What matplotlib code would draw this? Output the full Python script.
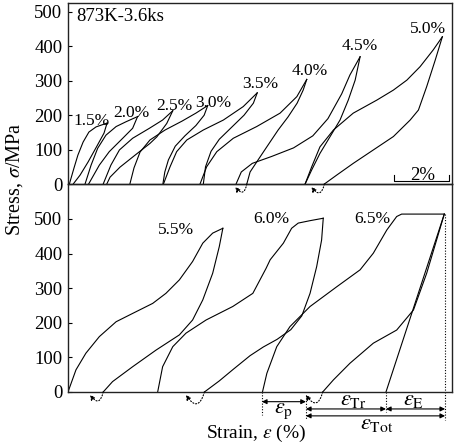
import matplotlib.pyplot as plt

plt.rcParams['font.family'] = ['Liberation Serif', 'DejaVu Serif']
plt.rcParams['mathtext.fontset'] = 'stix'

# ---- top panel: loops 1.5 % ... 5.0 % (strain %, stress MPa) ----
top_labels = ['1.5%', '2.0%', '2.5%', '3.0%', '3.5%', '4.0%', '4.5%', '5.0%']
top_label_x = [0.87, 2.32, 3.85, 5.28, 6.98, 8.78, 10.62, 13.07]
top_label_y = [171, 196, 215, 225, 278, 317, 390, 438]

top_load_strain = [
    [0.05, 0.22, 0.36, 0.55, 0.76, 1.02, 1.42],
    [0.62, 0.84, 1.08, 1.38, 1.75, 2.11, 2.53],
    [1.28, 1.56, 1.87, 2.35, 2.96, 3.44, 3.81],
    [2.25, 2.40, 2.62, 2.98, 3.53, 4.15, 4.65, 5.08],
    [3.47, 3.71, 3.95, 4.32, 4.92, 5.65, 6.37, 6.88],
    [4.80, 5.04, 5.41, 6.01, 6.86, 7.71, 8.32, 8.68],
    [6.11, 6.30, 6.70, 7.40, 8.20, 8.90, 9.45, 9.95, 10.25, 10.62],
    [8.62, 8.86, 9.16, 9.65, 10.37, 11.23, 11.83, 12.32, 12.80, 13.28, 13.61],
]
top_load_stress = [
    [0, 47, 84, 122, 151, 166, 177],
    [0, 55, 104, 142, 167, 181, 196],
    [0, 55, 99, 133, 162, 186, 213],
    [0, 47, 93, 128, 157, 183, 206, 228],
    [0, 50, 94, 128, 157, 186, 225, 265],
    [0, 50, 94, 133, 167, 206, 254, 304],
    [0, 35, 60, 80, 105, 140, 190, 262, 317, 370],
    [0, 50, 108, 157, 206, 244, 273, 302, 341, 390, 428],
]
top_unload_strain = [
    [1.42, 1.31, 1.05, 0.73, 0.44, 0.19],
    [2.53, 2.35, 1.99, 1.50, 1.14, 0.75],
    [3.81, 3.59, 3.23, 2.98, 2.44, 1.89, 1.53, 1.41],
    [5.08, 4.95, 4.65, 4.25, 3.90, 3.65, 3.52, 3.45],
    [6.88, 6.74, 6.40, 5.95, 5.50, 5.20, 5.00, 4.92],
    [8.68, 8.55, 8.33, 8.00, 7.64, 7.27, 6.91, 6.62, 6.50],
    [10.62, 10.44, 10.19, 9.89, 9.53, 9.16, 8.86, 8.62],
    [13.61, 13.35, 13.04, 12.74, 12.44, 11.83, 11.10, 10.37, 9.77, 9.32],
]
top_unload_stress = [
    [177, 148, 110, 64, 26, 0],
    [196, 162, 133, 94, 55, 0],
    [213, 176, 137, 118, 84, 49, 20, 0],
    [228, 200, 170, 140, 110, 70, 35, 0],
    [265, 235, 200, 165, 130, 95, 50, 0],
    [304, 273, 235, 195, 157, 113, 70, 35, 0],
    [370, 302, 244, 186, 138, 89, 41, 0],
    [428, 360, 283, 215, 186, 138, 99, 60, 26, 0],
]
# recovery on heating: (end of unloading, arrow tip)
top_recovery = [(6.50, 6.08), (9.32, 8.85)]

# ---- bottom panel: loops 5.5 %, 6.0 %, 6.5 % ----
bot_labels = ['5.5%', '6.0%', '6.5%']
bot_label_x = [3.94, 7.38, 11.07]
bot_label_y = [457, 488, 488]

bot_load_strain = [
    [0.0, 0.29, 0.65, 1.14, 1.75, 2.35, 3.08, 3.56, 4.05, 4.53, 4.90, 5.26, 5.63],
    [3.26, 3.44, 3.81, 4.29, 5.02, 5.99, 6.72, 7.20, 7.35, 7.83, 8.13, 8.37, 8.80, 9.28],
    [7.07, 7.23, 7.59, 8.07, 8.80, 9.77, 10.62, 11.10, 11.59, 11.95, 12.13, 13.68],
]
bot_load_stress = [
    [0, 64, 112, 160, 203, 227, 256, 285, 324, 377, 430, 459, 473],
    [0, 73, 131, 170, 208, 247, 285, 357, 382, 430, 473, 488, 495, 502],
    [0, 54, 131, 189, 247, 304, 353, 401, 468, 507, 514, 514],
]
bot_unload_strain = [
    [5.63, 5.50, 5.26, 4.90, 4.53, 4.05, 3.20, 2.35, 1.62, 1.28],
    [9.28, 9.22, 9.04, 8.80, 8.50, 8.10, 7.60, 7.10, 6.62, 6.00, 5.50, 4.96],
    [13.68, 13.40, 13.04, 12.56, 11.95, 11.10, 10.25, 9.65, 9.26],
]
bot_unload_stress = [
    [473, 420, 343, 266, 208, 165, 121, 73, 30, 0],
    [502, 439, 362, 285, 220, 180, 152, 130, 105, 65, 32, 0],
    [514, 439, 343, 237, 179, 141, 83, 35, 0],
]
elastic_strain = [13.68, 11.56]
elastic_stress = [514, 0]
bot_recovery = [(1.28, 0.80), (4.96, 4.29), (9.26, 8.65)]

# strain components of the 6.5 % cycle
eps_p = (7.05, 8.65)
eps_tr = (8.65, 11.56)
eps_e = (11.56, 13.71)

fig = plt.figure(figsize=(4.56, 4.46), dpi=100)
ax2 = fig.add_axes([0.1491, 0.1211, 0.8421, 0.4664])
ax1 = fig.add_axes([0.1491, 0.5874, 0.8421, 0.4058])
ax1.patch.set_visible(False)

lc = 'k'
lw = 0.8

def recovery_arrow(ax, start, tip):
    ax.annotate('', xy=(tip, -8), xytext=(start, 0), annotation_clip=False,
                arrowprops=dict(arrowstyle='-|>', ls=':', lw=0.8, color=lc,
                                mutation_scale=7, shrinkA=0, shrinkB=0,
                                connectionstyle='arc3,rad=-1.1'))

for i in range(len(top_labels)):
    ax1.plot(top_load_strain[i], top_load_stress[i], color=lc, lw=lw)
    ax1.plot(top_unload_strain[i], top_unload_stress[i], color=lc, lw=lw)
    ax1.text(top_label_x[i], top_label_y[i], top_labels[i], ha='center',
             va='baseline', fontsize=12.5)
for s, t in top_recovery:
    recovery_arrow(ax1, s, t)

ax1.text(0.29, 475, '873K-3.6ks', fontsize=13.5, va='baseline')
# 2 % scale bar
ax1.plot([11.85, 11.85, 13.85, 13.85], [26, 8.7, 8.7, 26], color=lc, lw=0.8)
ax1.text(12.89, 13, '2%', ha='center', va='baseline', fontsize=13.5)

for i in range(len(bot_labels)):
    ax2.plot(bot_load_strain[i], bot_load_stress[i], color=lc, lw=lw)
    ax2.plot(bot_unload_strain[i], bot_unload_stress[i], color=lc, lw=lw)
    ax2.text(bot_label_x[i], bot_label_y[i], bot_labels[i], ha='center',
             va='baseline', fontsize=12.5)
ax2.plot(elastic_strain, elastic_stress, color=lc, lw=lw)
for s, t in bot_recovery:
    recovery_arrow(ax2, s, t)

# dotted guide lines
dot = dict(color=lc, lw=0.8, ls=(0, (1, 1.5)), clip_on=False)
ax2.plot([eps_p[0], eps_p[0]], [0, -66], **dot)
ax2.plot([eps_tr[0], eps_tr[0]], [-9, -81], **dot)
ax2.plot([eps_e[0], eps_e[0]], [0, -58], **dot)
ax2.plot([eps_e[1], eps_e[1]], [514, -81], **dot)

def dim_arrow(ax, x0, x1, y):
    ax.annotate('', xy=(x1, y), xytext=(x0, y), annotation_clip=False,
                arrowprops=dict(arrowstyle='<|-|>', lw=0.8, color=lc,
                                mutation_scale=7, shrinkA=0, shrinkB=0))

dim_arrow(ax2, eps_p[0], eps_p[1], -28)
dim_arrow(ax2, eps_tr[0], eps_tr[1], -49)
dim_arrow(ax2, eps_e[0], eps_e[1], -49)
dim_arrow(ax2, eps_tr[0], eps_e[1], -69)
ax2.text(7.82, -56, r'$\varepsilon_{\rm p}$', ha='center', va='center', fontsize=16)
ax2.text(10.36, -25, r'$\varepsilon_{\rm Tr}$', ha='center', va='center', fontsize=16)
ax2.text(12.55, -25, r'$\varepsilon_{\rm E}$', ha='center', va='center', fontsize=16)
ax2.text(11.24, -95, r'$\varepsilon_{\rm Tot}$', ha='center', va='center', fontsize=16)

for ax, ytop in ((ax1, 526), (ax2, 601)):
    ax.set_xlim(0, 13.96)
    ax.set_ylim(0, ytop)
    ax.set_xticks([])
    ax.set_yticks([0, 100, 200, 300, 400, 500])
    ax.tick_params(axis='y', direction='in', length=3, width=0.8,
                   labelsize=13.5, pad=4)
    for sp in ax.spines.values():
        sp.set_linewidth(1.0)
        sp.set_color('#222222')

fig.text(0.032, 0.599, r'Stress, $\sigma$/MPa', rotation=90, ha='center',
         va='center', fontsize=14.5)
fig.text(0.561, 0.028, r'Strain, $\varepsilon$ (%)', ha='center',
         va='center', fontsize=14)

fig.savefig('out.png', dpi=100)
